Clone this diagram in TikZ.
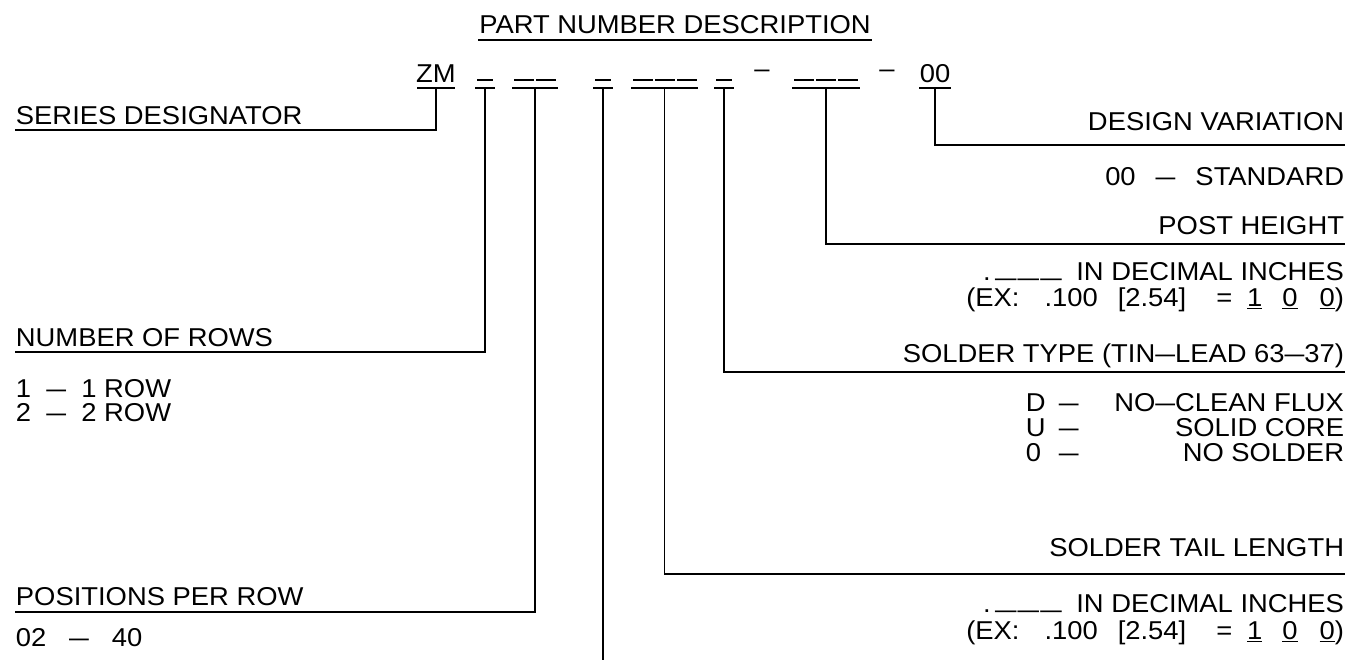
\documentclass[tikz,border=0pt]{standalone}
\usepackage{fontspec}
\usepackage{graphicx}
\setmainfont{Liberation Sans}[FakeStretch=1.06]
\usetikzlibrary{positioning}

\newcommand{\cadash}{\scalebox{1.3}[1]{--}}

\begin{document}
\begin{tikzpicture}[
    x=0.02cm, y=-0.02cm,
    line width=1.1pt,
    every node/.style={font=\fontsize{14.7}{17}\selectfont, inner sep=0pt},
    lbl/.style={anchor=base west},
    rlbl/.style={anchor=base east},
    code/.style={anchor=base},
    slot/.style={minimum width=#1*0.02cm, minimum height=0pt}
]
    \useasboundingbox (0,0) rectangle (1349,660);

    % Title
    \node[code] (title) at (675,33) {PART NUMBER DESCRIPTION};
    \draw ([yshift=-4pt]title.base west) -- ([yshift=-4pt]title.base east);

    % Part number row
    \node[code] (zmtxt) at (436,82) {ZM};
    \node[code] (dash1) at (762,77) {--};
    \node[code] (dash2) at (887,77) {--};
    \node[code] (vartxt) at (935,82) {00};

    \node[slot=36] (zm) at (436,88) {};
    \node[slot=18] (rows) at (485,88) {};
    \node[slot=44] (pos) at (535,88) {};
    \node[slot=18] (blank) at (603,88) {};
    \node[slot=65] (tail) at (664.5,88) {};
    \node[slot=18] (type) at (724,88) {};
    \node[slot=66] (post) at (826,88) {};
    \node[slot=30] (var) at (935,88) {};

    \foreach \f in {zm,rows,pos,blank,tail,type,post,var}
        \draw (\f.west) -- (\f.east);

    % blanks to fill in
    \foreach \a/\b in {477/493, 514/534, 536/556, 595/611, 633/653, 655/675, 677/697,
                       716/732, 794/814, 816/836, 838/858}
        \draw (\a,80) -- (\b,80);

    % Left side
    \node[lbl] (serlbl) at (15,124) {SERIES DESIGNATOR};
    \coordinate (serline) at (15,130);

    \node[lbl] (rowslbl) at (15,346) {NUMBER OF ROWS};
    \coordinate (rowsline) at (15,352);
    \node[lbl] (rows1) at (15,397) {1\ \ \cadash\ \ 1 ROW};
    \node[lbl] (rows2) at (15,421) {2\ \ \cadash\ \ 2 ROW};

    \node[lbl] (poslbl) at (15,605) {POSITIONS PER ROW};
    \coordinate (posline) at (15,612);
    \node[lbl] (posrange) at (15,646) {02\ \ \ \cadash\ \ \ 40};

    % Right side
    \node[rlbl] (varlbl) at (1345,130) {DESIGN VARIATION};
    \coordinate (varline) at (1345,145);
    \node[rlbl] (varstd) at (1345,185) {00\hspace{0.4cm}\cadash\hspace{0.4cm}STANDARD};

    \node[rlbl] (postlbl) at (1345,234) {POST HEIGHT};
    \coordinate (postline) at (1345,244);
    \node[rlbl] (postunit) at (1345,280) {.\hspace{0.1cm}\raisebox{0.16em}{\scalebox{1.35}[1]{\_}\hspace{0.04cm}\scalebox{1.35}[1]{\_}\hspace{0.04cm}\scalebox{1.35}[1]{\_}}\hspace{0.3cm}IN DECIMAL INCHES};
    \node[rlbl] (postex) at (1345,306) {(EX:\hspace{0.5cm}.100\hspace{0.4cm}[2.54]\hspace{0.6cm}=\hspace{0.3cm}\underline{1}\hspace{0.4cm}\underline{0}\hspace{0.44cm}\underline{0})};

    \node[rlbl] (typelbl) at (1345,362) {SOLDER TYPE (TIN\cadash LEAD\ 63\cadash 37)};
    \coordinate (typeline) at (1345,372);
    \node[lbl] (typed) at (1025,411) {\makebox[0.66cm][l]{D}\cadash};
    \node[rlbl] (typedtxt) at (1345,411) {NO\cadash CLEAN FLUX};
    \node[lbl] (typeu) at (1025,436) {\makebox[0.66cm][l]{U}\cadash};
    \node[rlbl] (typeutxt) at (1345,436) {SOLID CORE};
    \node[lbl] (typeo) at (1025,461) {\makebox[0.66cm][l]{0}\cadash};
    \node[rlbl] (typeotxt) at (1345,461) {NO SOLDER};

    \node[rlbl] (taillbl) at (1345,556) {SOLDER TAIL LENGTH};
    \coordinate (tailline) at (1345,574);
    \node[rlbl] (tailunit) at (1345,612) {.\hspace{0.1cm}\raisebox{0.16em}{\scalebox{1.35}[1]{\_}\hspace{0.04cm}\scalebox{1.35}[1]{\_}\hspace{0.04cm}\scalebox{1.35}[1]{\_}}\hspace{0.3cm}IN DECIMAL INCHES};
    \node[rlbl] (tailex) at (1345,639) {(EX:\hspace{0.5cm}.100\hspace{0.4cm}[2.54]\hspace{0.6cm}=\hspace{0.3cm}\underline{1}\hspace{0.4cm}\underline{0}\hspace{0.44cm}\underline{0})};

    \coordinate (blankend) at (603,660);

    % Connections
    \draw (zm.center) |- (serline);
    \draw (rows.center) |- (rowsline);
    \draw (pos.center) |- (posline);
    \draw (blank.center) -- (blankend);
    \draw (tail.center) |- (tailline);
    \draw (type.center) |- (typeline);
    \draw (post.center) |- (postline);
    \draw (var.center) |- (varline);
\end{tikzpicture}
\end{document}
